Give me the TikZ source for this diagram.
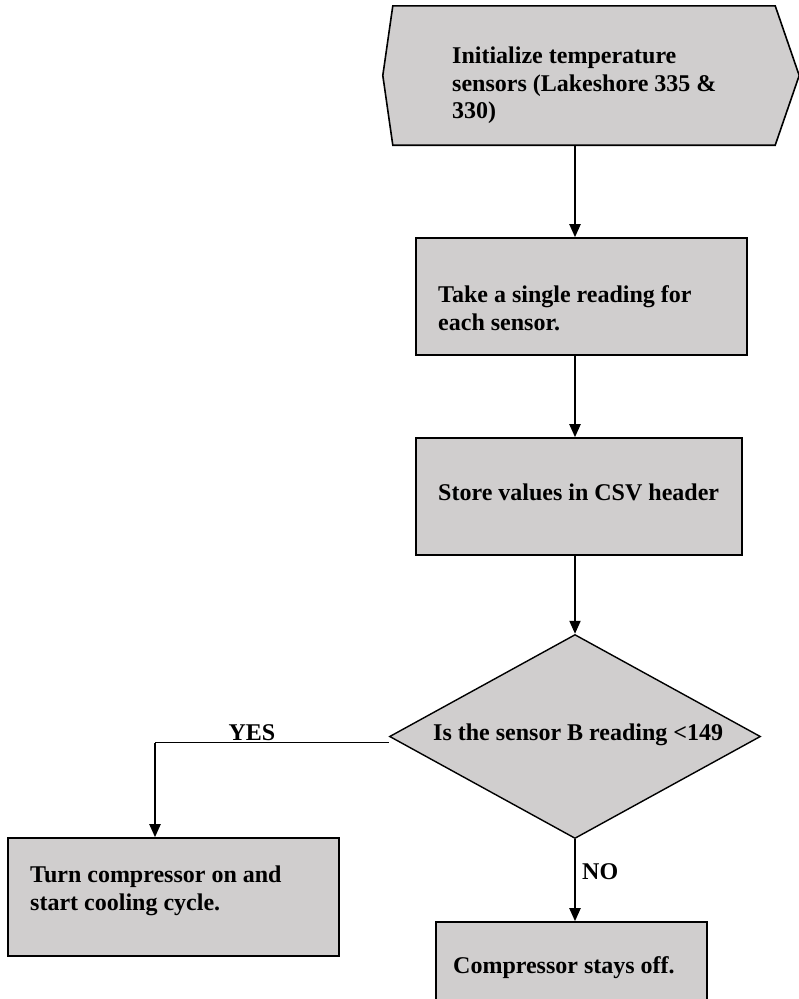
\documentclass[tikz,border=0pt]{standalone}
\usepackage{fontspec}
\setmainfont{Liberation Serif}
\usetikzlibrary{shapes.geometric,arrows.meta}
\definecolor{boxgray}{RGB}{208,206,206}
\tikzset{
  shapebox/.style={draw=black, fill=boxgray, line width=1.6pt, inner sep=0pt, rectangle},
  ghost/.style={draw=none, inner sep=0pt, rectangle},
  decbox/.style={draw=black, fill=boxgray, line width=1.4pt, inner sep=0pt, diamond},
  txt/.style={font=\bfseries\fontsize{24}{28}\selectfont, inner sep=0pt, anchor=base west, align=left},
  flow/.style={line width=2pt, -{Triangle[width=11pt,length=13pt]}},
  thinline/.style={line width=1pt}
}
\begin{document}
\begin{tikzpicture}[x=1pt,y=-1pt]
\useasboundingbox (0,0) rectangle (799,999);
\coordinate (axis) at (575,0);
% hexagon
\node[ghost, minimum width=416pt, minimum height=139pt] (init) at (591,75.5) {};
\draw[fill=boxgray, line width=1.6pt] (init.west) -- ([xshift=10pt]init.north west) -- ([xshift=-24pt]init.north east) -- (init.east) -- ([xshift=-24pt]init.south east) -- ([xshift=10pt]init.south west) -- cycle;
\node[txt] (initT) at (452,63) {Initialize temperature};
\node[txt] (initT2) at (452,91) {sensors (Lakeshore 335 \&};
\node[txt] (initT3) at (452,118) {330)};
% boxes
\node[shapebox, minimum width=331pt, minimum height=117pt] (read) at (581.5,296.5) {};
\node[txt] (readT) at (438,302) {Take a single reading for};
\node[txt] (readT2) at (438,330) {each sensor.};
\node[shapebox, minimum width=326pt, minimum height=117pt] (store) at (579,496.5) {};
\node[txt] (storeT) at (438,500) {Store values in CSV header};
\node[decbox, minimum width=371pt, minimum height=204pt] (dec) at (575,736.5) {};
\node[txt] (decT) at (433,740) {Is the sensor B reading <149};
\node[shapebox, minimum width=331pt, minimum height=118pt] (turn) at (173.5,897) {};
\node[txt] (turnT) at (30,882) {Turn compressor on and};
\node[txt] (turnT2) at (30,910) {start cooling cycle.};
\node[shapebox, minimum width=271pt, minimum height=82pt] (off) at (571.5,963) {};
\node[txt] (offT) at (453,973) {Compressor stays off.};
% connectors
\draw[flow] (init.south -| axis) -- (read.north -| axis);
\draw[flow] (read.south -| axis) -- (store.north -| axis);
\draw[flow] (store.south -| dec.north) -- (dec.north);
\coordinate (yesc) at (155,742.5);
\draw[thinline] ([yshift=-6pt]dec.west) -- (yesc);
\draw[flow] (yesc) -- (turn.north -| yesc);
\node[txt, anchor=base] (yes) at (252,740) {YES};
\draw[flow] (dec.south) -- (off.north -| dec.south);
\node[txt] (no) at (582,879) {NO};
\end{tikzpicture}
\end{document}
